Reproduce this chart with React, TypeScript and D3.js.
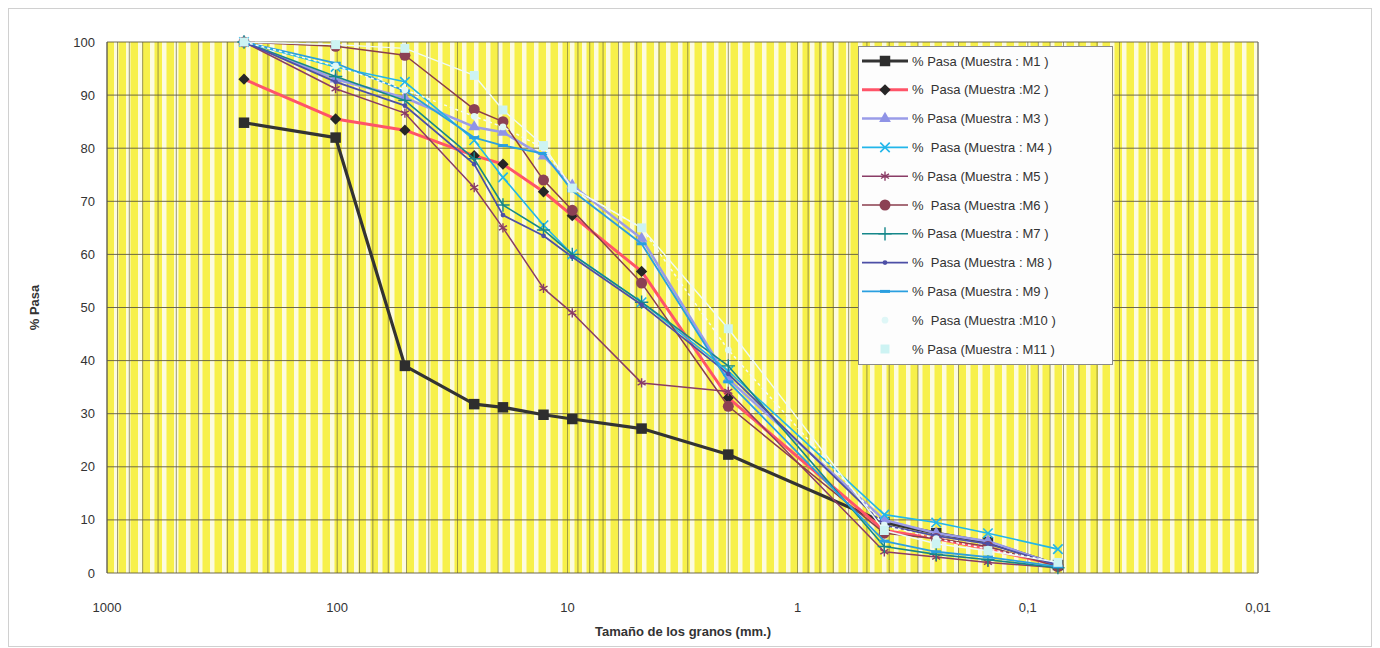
import { useEffect, useRef } from 'react';
import * as d3 from 'd3';

// sieve openings (mm)
const sizes = [254, 101.6, 50.8, 25.4, 19.05, 12.7, 9.525, 4.76, 2.0, 0.42, 0.25, 0.149, 0.074];

const m1 = [84.8, 82, 39, 31.8, 31.2, 29.8, 29, 27.2, 22.3, 9.5, 7.5, 5.8, 1.5];
const m2 = [93, 85.5, 83.4, 78.6, 77, 71.8, 67.3, 56.8, 33, 8, 6.5, 4.5, 1.5];
const m3 = [100, 93, 89.5, 84, 83, 78.5, 73, 63, 36.5, 10, 7.5, 6, 1.5];
const m4 = [100, 95.3, 92.5, 81.5, 74.5, 65.5, 60, 51, 38, 11, 9.5, 7.5, 4.5];
const m5 = [100, 91.2, 86.6, 72.6, 65, 53.6, 49, 35.8, 34.2, 4, 3, 2, 1];
const m6 = [100, 99.2, 97.5, 87.3, 85, 74, 68.3, 54.6, 31.4, 7.5, 6.5, 5, 1.2];
const m7 = [100, 93.5, 89, 78, 69.3, 64.6, 60, 51, 39, 5, 3.5, 2.5, 1];
const m8 = [100, 92.5, 88, 77, 67.4, 63.5, 59.5, 50.5, 37.5, 9, 7, 5.5, 1.5];
const m9 = [100, 96, 90.8, 82, 80.5, 79, 72, 62, 36, 6, 4, 3, 1.2];
const m10 = [100, 95.5, 91, 86, 84, 80, 72.5, 65, 42, 9, 6.5, 4.5, 2];
const m11 = [100, 99.5, 98.8, 93.7, 87.2, 80.5, 72.5, 65, 46, 8, 5.5, 4.2, 2];

const legendLabels = [
  '% Pasa (Muestra : M1 )',
  '%  Pasa (Muestra :M2 )',
  '% Pasa (Muestra : M3 )',
  '%  Pasa (Muestra : M4 )',
  '% Pasa (Muestra : M5 )',
  '%  Pasa (Muestra :M6 )',
  '% Pasa (Muestra : M7 )',
  '%  Pasa (Muestra : M8 )',
  '% Pasa (Muestra : M9 )',
  '%  Pasa (Muestra :M10 )',
  '% Pasa (Muestra : M11 )',
];

const xTicks = [1000, 100, 10, 1, 0.1, 0.01];
const xTickLabels = ['1000', '100', '10', '1', '0,1', '0,01'];
const yTicks = [0, 10, 20, 30, 40, 50, 60, 70, 80, 90, 100];

type Style = {
  color: string;
  width: number;
  marker: string;
  mColor: string;
  mSize: number;
  dash?: string;
};

const styles: Style[] = [
  { color: '#333333', width: 3.2, marker: 'square', mColor: '#2e2e2e', mSize: 110 },
  { color: '#ff5468', width: 3, marker: 'diamond', mColor: '#262626', mSize: 64 },
  { color: '#9a9ce8', width: 2.5, marker: 'triangle', mColor: '#8f93e6', mSize: 60 },
  { color: '#22b6ea', width: 1.6, marker: 'times', mColor: '#22b6ea', mSize: 60 },
  { color: '#8a3c66', width: 1.5, marker: 'asterisk', mColor: '#8a3c66', mSize: 60 },
  { color: '#8a3d4c', width: 1.5, marker: 'circle', mColor: '#8c4154', mSize: 95 },
  { color: '#15878a', width: 1.6, marker: 'plus', mColor: '#15878a', mSize: 60 },
  { color: '#4d4fa6', width: 1.8, marker: 'dot', mColor: '#4d4fa6', mSize: 18 },
  { color: '#2a9fe0', width: 1.8, marker: 'dash', mColor: '#2a9fe0', mSize: 0 },
  { color: '#f2fbfb', width: 1.5, marker: 'lightdot', mColor: '#dff7f7', mSize: 35, dash: '3,3' },
  { color: '#eefafa', width: 1.4, marker: 'lightsquare', mColor: '#cdf3f3', mSize: 80 },
];

const seriesValues = [m1, m2, m3, m4, m5, m6, m7, m8, m9, m10, m11];

const App = () => {
  const svgRef = useRef<SVGSVGElement | null>(null);

  useEffect(() => {
    document.body.style.margin = '0';
    const svg = d3.select(svgRef.current);
    svg.selectAll('*').remove();

    const width = 1380;
    const height = 648;
    const left = 107;
    const right = 1258;
    const top = 42;
    const bottom = 573;
    const font = 'Arial, "Liberation Sans", sans-serif';

    svg.attr('width', width).attr('height', height);

    const x = d3.scaleLog().domain([1000, 0.01]).range([left, right]);
    const y = d3.scaleLinear().domain([0, 100]).range([bottom, top]);

    // page background and chart frame
    svg.append('rect').attr('width', width).attr('height', height).attr('fill', '#ffffff');
    svg.append('rect')
      .attr('x', 8.5).attr('y', 8.5)
      .attr('width', width - 17).attr('height', height - 10)
      .attr('fill', 'none').attr('stroke', '#d0d0d0');

    // striped yellow plot area
    const defs = svg.append('defs');
    const pat = defs.append('pattern')
      .attr('id', 'stripes')
      .attr('patternUnits', 'userSpaceOnUse')
      .attr('x', left).attr('y', 0)
      .attr('width', 12).attr('height', 10);
    pat.append('rect').attr('width', 12).attr('height', 10).attr('fill', '#f7f04a');
    pat.append('rect').attr('x', 7).attr('width', 4.5).attr('height', 10).attr('fill', '#fcfbe0');

    svg.append('rect')
      .attr('x', left).attr('y', top)
      .attr('width', right - left).attr('height', bottom - top)
      .attr('fill', 'url(#stripes)');

    // log gridlines
    const gridVals: number[] = [];
    for (let e = -2; e < 3; e++) {
      for (let k = 1; k <= 9; k++) gridVals.push(k * Math.pow(10, e));
    }
    gridVals.push(1000);
    svg.append('g')
      .selectAll('line')
      .data(gridVals)
      .enter()
      .append('line')
      .attr('x1', d => x(d)).attr('x2', d => x(d))
      .attr('y1', top).attr('y2', bottom)
      .attr('stroke', '#6e6a3e')
      .attr('stroke-width', 0.8)
      .attr('opacity', 0.85);

    svg.append('g')
      .selectAll('line')
      .data(yTicks)
      .enter()
      .append('line')
      .attr('x1', left).attr('x2', right)
      .attr('y1', d => y(d)).attr('y2', d => y(d))
      .attr('stroke', '#5e5a40')
      .attr('stroke-width', 0.9);

    // axes lines
    svg.append('line')
      .attr('x1', left).attr('x2', left).attr('y1', top).attr('y2', bottom)
      .attr('stroke', '#555').attr('stroke-width', 1);
    svg.append('line')
      .attr('x1', right).attr('x2', right).attr('y1', top).attr('y2', bottom)
      .attr('stroke', '#777').attr('stroke-width', 1);

    // y tick labels
    svg.append('g')
      .selectAll('text')
      .data(yTicks)
      .enter()
      .append('text')
      .attr('x', left - 12)
      .attr('y', d => y(d) + 4.5)
      .attr('text-anchor', 'end')
      .style('font-family', font)
      .style('font-size', '13px')
      .attr('fill', '#333')
      .text(d => d);

    // x tick labels
    svg.append('g')
      .selectAll('text')
      .data(xTicks)
      .enter()
      .append('text')
      .attr('x', (d) => x(d))
      .attr('y', 612)
      .attr('text-anchor', 'middle')
      .style('font-family', font)
      .style('font-size', '13px')
      .attr('fill', '#333')
      .text((d, i) => xTickLabels[i]);

    svg.append('text')
      .attr('x', 683).attr('y', 636)
      .attr('text-anchor', 'middle')
      .style('font-family', font)
      .style('font-size', '13px')
      .style('font-weight', 'bold')
      .attr('fill', '#333')
      .text('Tamaño de los granos (mm.)');

    svg.append('text')
      .attr('transform', `translate(39,${(top + bottom) / 2}) rotate(-90)`)
      .attr('text-anchor', 'middle')
      .style('font-family', font)
      .style('font-size', '13px')
      .style('font-weight', 'bold')
      .attr('fill', '#333')
      .text('% Pasa');

    const drawMarker = (g: any, s: Style, cx: number, cy: number) => {
      const t = `translate(${cx},${cy})`;
      if (s.marker === 'square' || s.marker === 'lightsquare') {
        g.append('path').attr('transform', t).attr('d', d3.symbol(d3.symbolSquare, s.mSize)()).attr('fill', s.mColor);
      } else if (s.marker === 'diamond') {
        g.append('path').attr('transform', `${t} rotate(45)`).attr('d', d3.symbol(d3.symbolSquare, s.mSize)()).attr('fill', s.mColor);
      } else if (s.marker === 'triangle') {
        g.append('path').attr('transform', t).attr('d', d3.symbol(d3.symbolTriangle, s.mSize)()).attr('fill', s.mColor);
      } else if (s.marker === 'circle' || s.marker === 'dot' || s.marker === 'lightdot') {
        g.append('path').attr('transform', t).attr('d', d3.symbol(d3.symbolCircle, s.mSize)()).attr('fill', s.mColor);
      } else if (s.marker === 'times') {
        g.append('path').attr('transform', t).attr('d', d3.symbol(d3.symbolTimes, s.mSize)())
          .attr('fill', 'none').attr('stroke', s.mColor).attr('stroke-width', 1.6);
      } else if (s.marker === 'asterisk') {
        g.append('path').attr('transform', t).attr('d', d3.symbol(d3.symbolAsterisk, s.mSize)())
          .attr('fill', 'none').attr('stroke', s.mColor).attr('stroke-width', 1.4);
      } else if (s.marker === 'plus') {
        g.append('path').attr('transform', t).attr('d', d3.symbol(d3.symbolPlus, s.mSize)())
          .attr('fill', 'none').attr('stroke', s.mColor).attr('stroke-width', 1.4);
      } else if (s.marker === 'dash') {
        g.append('line').attr('x1', cx - 5).attr('x2', cx + 5).attr('y1', cy).attr('y2', cy)
          .attr('stroke', s.mColor).attr('stroke-width', 3);
      }
    };

    // series
    const line = d3.line<[number, number]>()
      .x(d => x(d[0]))
      .y(d => y(d[1]));

    seriesValues.forEach((vals, i) => {
      const s = styles[i];
      const pts: [number, number][] = sizes.map((sz, j) => [sz, vals[j]]);
      const g = svg.append('g');
      g.append('path')
        .attr('d', line(pts))
        .attr('fill', 'none')
        .attr('stroke', s.color)
        .attr('stroke-width', s.width)
        .attr('stroke-dasharray', s.dash || null)
        .attr('stroke-linejoin', 'round');
      pts.forEach(p => drawMarker(g, s, x(p[0]), y(p[1])));
    });

    // legend
    const lx = 858;
    const ly = 46;
    const rowH = 28.8;
    const legend = svg.append('g');
    legend.append('rect')
      .attr('x', lx + 0.5).attr('y', ly + 0.5)
      .attr('width', 254).attr('height', 318)
      .attr('fill', '#fdfdfd')
      .attr('stroke', '#8a8a8a');

    legendLabels.forEach((label, i) => {
      const s = styles[i];
      const cy = ly + 15 + i * rowH;
      if (i < 9) {
        legend.append('line')
          .attr('x1', lx + 4).attr('x2', lx + 50)
          .attr('y1', cy).attr('y2', cy)
          .attr('stroke', s.color)
          .attr('stroke-width', s.width);
      }
      drawMarker(legend, s, lx + 27, cy);
      legend.append('text')
        .attr('x', lx + 54)
        .attr('y', cy + 4.5)
        .attr('xml:space', 'preserve')
        .style('white-space', 'pre')
        .style('font-family', font)
        .style('font-size', '13px')
        .attr('fill', '#333')
        .text(label);
    });
  }, []);

  return <svg ref={svgRef}></svg>;
};

export default App;
